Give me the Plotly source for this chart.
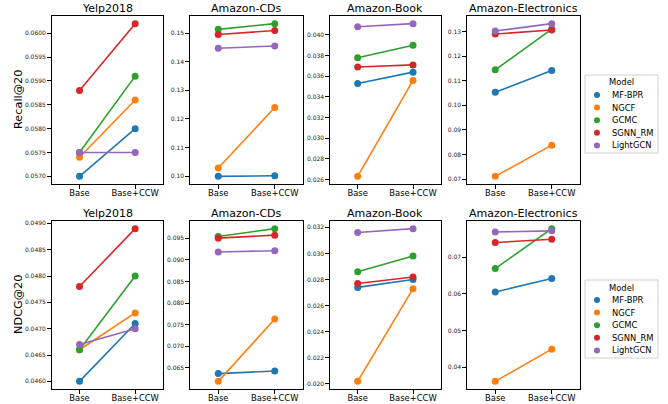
import plotly.graph_objects as go

datasets = ["Yelp2018", "Amazon-CDs", "Amazon-Book", "Amazon-Electronics"]
models = ["MF-BPR", "NGCF", "GCMC", "SGNN_RM", "LightGCN"]
conditions = ["Base", "Base+CCW"]
colors = ["#1f77b4", "#ff7f0e", "#2ca02c", "#d62728", "#9467bd"]
metrics = ["Recall@20", "NDCG@20"]
legend_title = "Model"

# values per dataset: list per model of [Base, Base+CCW]
recall_yelp = [[0.0570, 0.0580], [0.0574, 0.0586], [0.0575, 0.0591], [0.0588, 0.0602], [0.0575, 0.0575]]
recall_cds = [[0.0999, 0.1001], [0.1028, 0.1240], [0.1513, 0.1533], [0.1495, 0.1509], [0.1447, 0.1455]]
recall_book = [[0.0353, 0.0364], [0.0263, 0.0356], [0.0378, 0.0390], [0.0369, 0.0371], [0.0408, 0.0411]]
recall_elec = [[0.1053, 0.1141], [0.0711, 0.0838], [0.1144, 0.1310], [0.1290, 0.1306], [0.1302, 0.1332]]

ndcg_yelp = [[0.0460, 0.0471], [0.0466, 0.0473], [0.0466, 0.0480], [0.0478, 0.0489], [0.0467, 0.0470]]
ndcg_cds = [[0.0637, 0.0643], [0.0619, 0.0763], [0.0954, 0.0972], [0.0950, 0.0957], [0.0918, 0.0921]]
ndcg_book = [[0.0274, 0.0280], [0.0202, 0.0273], [0.0286, 0.0298], [0.0277, 0.0282], [0.0316, 0.0319]]
ndcg_elec = [[0.0605, 0.0642], [0.0361, 0.0449], [0.0669, 0.0778], [0.0740, 0.0749], [0.0769, 0.0772]]

recall_data = [recall_yelp, recall_cds, recall_book, recall_elec]
ndcg_data = [ndcg_yelp, ndcg_cds, ndcg_book, ndcg_elec]

# tick settings per panel (dtick, format)
recall_ticks = [(0.0005, ".4f"), (0.01, ".2f"), (0.002, ".3f"), (0.01, ".2f")]
ndcg_ticks = [(0.0005, ".4f"), (0.005, ".3f"), (0.002, ".3f"), (0.01, ".2f")]

W, H = 668, 404
col_px = [(51.7, 163), (190, 303), (330, 440.7), (467, 580)]
row_px = [(16, 184), (221, 389)]

fig = go.Figure()
font_family = "DejaVu Sans"

axis_common = dict(showgrid=False, zeroline=False, showline=True, mirror=True,
                   linecolor="black", linewidth=1.2, ticks="outside", ticklen=3.5,
                   tickcolor="black", automargin=False, fixedrange=True)

idx = 0
for r, (mdata, ticks) in enumerate([(recall_data, recall_ticks), (ndcg_data, ndcg_ticks)]):
    for c in range(4):
        idx += 1
        xa = "x" if idx == 1 else f"x{idx}"
        ya = "y" if idx == 1 else f"y{idx}"
        vals = mdata[c]
        for m, name in enumerate(models):
            fig.add_trace(go.Scatter(
                x=conditions, y=vals[m], mode="lines+markers",
                line=dict(color=colors[m], width=1.6),
                marker=dict(color=colors[m], size=7),
                xaxis=xa, yaxis=ya, showlegend=False, name=name,
            ))
        allv = [v for pair in vals for v in pair]
        lo, hi = min(allv), max(allv)
        pad = (hi - lo) * 0.05
        x0, x1 = col_px[c]
        y0, y1 = row_px[r]
        xkey = "xaxis" if idx == 1 else f"xaxis{idx}"
        ykey = "yaxis" if idx == 1 else f"yaxis{idx}"
        fig.update_layout(**{
            xkey: dict(domain=[x0 / W, x1 / W], anchor=ya, range=[-0.5, 1.5], type="category",
                       ticklabelstandoff=-3,
                       tickfont=dict(size=8.4, color="black", family=font_family), **axis_common),
            ykey: dict(domain=[1 - y1 / H, 1 - y0 / H], anchor=xa, range=[lo - pad, hi + pad],
                       dtick=ticks[c][0], tick0=0, tickformat=ticks[c][1],
                       tickfont=dict(size=6, color="#222", family=font_family), **axis_common),
        })
        fig.add_annotation(text=datasets[c], x=(x0 + x1) / 2 / W, y=1 - y0 / H, xref="paper", yref="paper",
                           xanchor="center", yanchor="bottom", yshift=-1, showarrow=False,
                           font=dict(size=11, color="black", family=font_family))
    fig.add_annotation(text=metrics[r], x=18 / W, y=1 - (row_px[r][0] + row_px[r][1]) / 2 / H,
                       xref="paper", yref="paper", textangle=-90, showarrow=False,
                       xanchor="center", yanchor="middle",
                       font=dict(size=11.3, color="black", family=font_family))

# Legends drawn on a full-page overlay axis in pixel units
leg_boxes = [(585, 75, 658, 153), (585, 280, 658, 358)]
lx_marker, lx_text = 597, 610
for (bx0, by0, bx1, by1) in leg_boxes:
    fig.add_shape(type="rect", xref="paper", yref="paper",
                  x0=bx0 / W, x1=bx1 / W, y0=1 - by1 / H, y1=1 - by0 / H,
                  line=dict(color="#d0d0d0", width=1), fillcolor="white", layer="below")
    fig.add_annotation(text=legend_title, x=(bx0 + bx1) / 2 / W, y=1 - (by0 + 7.5) / H,
                       xref="paper", yref="paper", xanchor="center", yanchor="middle", showarrow=False,
                       font=dict(size=8.4, color="black", family=font_family))
    for m, name in enumerate(models):
        yy = by0 + 20 + m * 12.6
        fig.add_trace(go.Scatter(x=[lx_marker], y=[yy], mode="markers", xaxis="x9", yaxis="y9",
                                 marker=dict(color=colors[m], size=6), showlegend=False, hoverinfo="skip"))
        fig.add_annotation(text=name, x=lx_text, y=yy, xref="x9", yref="y9", xanchor="left",
                           yanchor="middle", showarrow=False,
                           font=dict(size=8.4, color="black", family=font_family))

fig.update_layout(
    xaxis9=dict(domain=[0, 1], range=[0, W], visible=False, anchor="y9", fixedrange=True, automargin=False),
    yaxis9=dict(domain=[0, 1], range=[H, 0], visible=False, anchor="x9", fixedrange=True, automargin=False),
    width=W, height=H, margin=dict(l=0, r=0, t=0, b=0, pad=0),
    plot_bgcolor="rgba(0,0,0,0)", paper_bgcolor="white",
    font=dict(family=font_family),
    showlegend=False,
)

fig.write_html("out.html", config={"displayModeBar": False},
               post_script="document.body.style.margin='0px';")
